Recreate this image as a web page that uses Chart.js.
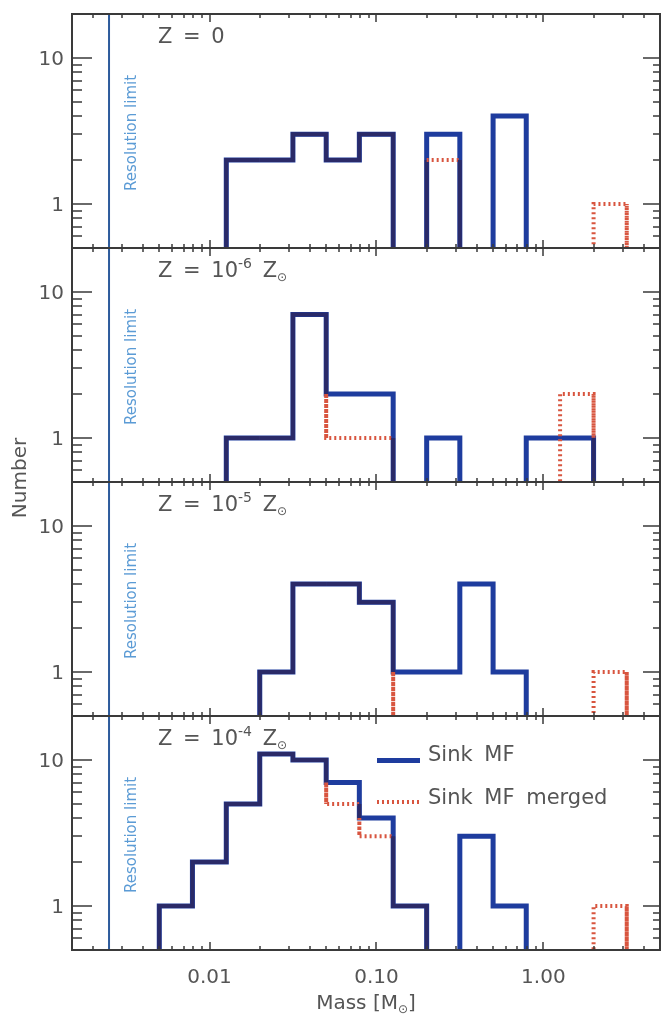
<!DOCTYPE html>
<html>
<head>
<meta charset="utf-8">
<script src="https://cdn.jsdelivr.net/npm/chart.js@4.4.0/dist/chart.umd.min.js"></script>
<style>
  html, body { margin: 0; padding: 0; background: #fff; }
  #wrap { position: relative; width: 662px; height: 1017px; overflow: hidden;
          font-family: 'DejaVu Sans', sans-serif; color: #555; }
  #wrap canvas { position: absolute; left: 0; }
  .ztitle { position: absolute; left: 158px; font-size: 21px; line-height: 22px;
            word-spacing: 4px; white-space: nowrap; }
  .ztitle .sup { position: relative; top: -9px; font-size: 14px; word-spacing: 0; }
  .ztitle .sub { position: relative; top: 4px; font-size: 12px; }
  .axlabel { position: absolute; font-size: 20px; line-height: 22px; text-align: center; white-space: nowrap; }
  .axlabel .sub { position: relative; top: 4px; font-size: 12px; }
  .legtext { position: absolute; left: 428px; font-size: 21px; line-height: 24px; word-spacing: 5px; white-space: nowrap; }
  .legline { position: absolute; left: 377px; width: 43px; }
</style>
</head>
<body>
<div id="wrap"></div>
<script>
// log-spaced bin edges (solar masses), 14 bins
const binEdges = [0.005, 0.0079, 0.0126, 0.02, 0.0316, 0.05, 0.079, 0.126, 0.2, 0.316, 0.5, 0.79, 1.26, 2.0, 3.16];

// number of sinks per bin, one pair per metallicity
const sinkZ0    = [0, 0, 2, 2, 3, 2, 3, 0, 3, 0, 4, 0, 0, 0];
const mergedZ0  = [0, 0, 2, 2, 3, 2, 3, 0, 2, 0, 0, 0, 0, 1];
const sinkZ6    = [0, 0, 1, 1, 7, 2, 2, 0, 1, 0, 0, 1, 1, 0];
const mergedZ6  = [0, 0, 1, 1, 7, 1, 1, 0, 0, 0, 0, 0, 2, 0];
const sinkZ5    = [0, 0, 0, 1, 4, 4, 3, 1, 1, 4, 1, 0, 0, 0];
const mergedZ5  = [0, 0, 0, 1, 4, 4, 3, 0, 0, 0, 0, 0, 0, 1];
const sinkZ4    = [1, 2, 5, 11, 10, 7, 4, 1, 0, 3, 1, 0, 0, 0];
const mergedZ4  = [1, 2, 5, 11, 10, 5, 3, 1, 0, 0, 0, 0, 0, 1];

const zExponents = [null, '-6', '-5', '-4'];
const resolutionLimit = 0.0025;

const xMajorTicks = [0.01, 0.1, 1];
const xTickLabels = ['0.01', '0.10', '1.00'];
const xMinorTicks = [0.002, 0.003, 0.004, 0.005, 0.006, 0.007, 0.008, 0.009,
                     0.02, 0.03, 0.04, 0.05, 0.06, 0.07, 0.08, 0.09,
                     0.2, 0.3, 0.4, 0.5, 0.6, 0.7, 0.8, 0.9, 2, 3, 4];
const yMajorTicks = [1, 10];
const yTickLabels = ['1', '10'];
const yMinorTicks = [0.6, 0.7, 0.8, 0.9, 2, 3, 4, 5, 6, 7, 8, 9];

const panels = [
  { sink: sinkZ0, merged: mergedZ0, exp: zExponents[0] },
  { sink: sinkZ6, merged: mergedZ6, exp: zExponents[1] },
  { sink: sinkZ5, merged: mergedZ5, exp: zExponents[2] },
  { sink: sinkZ4, merged: mergedZ4, exp: zExponents[3] }
];

const BLUE = '#1e3c9e', NAVY = '#2a2a68', RED = '#d8553f', AXIS = '#3a3a3a';
const PANEL_TOP = 14, PANEL_H = 234, PAD = 4;
const BASE = 0.3; // empty bins sit below the axis
const lift = v => (v > 0 ? v : BASE);

// histogram outline as step points
function sinkOutline(counts) {
  const pts = [];
  let prev = 0;
  counts.forEach((c, i) => {
    pts.push({ x: binEdges[i], y: lift(prev) }, { x: binEdges[i], y: lift(c) }, { x: binEdges[i + 1], y: lift(c) });
    prev = c;
  });
  pts.push({ x: binEdges[counts.length], y: BASE });
  return pts;
}

// merged outline, with a flag per segment telling if it lies on the sink outline
function mergedOutline(m, s) {
  const pts = [], shared = [];
  const n = m.length;
  for (let i = 0; i <= n; i++) {
    const a = i > 0 ? m[i - 1] : 0, b = i < n ? m[i] : 0;
    const sa = i > 0 ? s[i - 1] : 0, sb = i < n ? s[i] : 0;
    const lo = Math.min(sa, sb), hi = Math.max(sa, sb);
    const ys = [a];
    [sa, sb].filter(v => (v - a) * (v - b) < 0)
      .sort((p, q) => (b > a ? p - q : q - p))
      .forEach(v => ys.push(v));
    ys.push(b);
    if (i === 0) pts.push({ x: binEdges[0], y: lift(a) });
    for (let k = 1; k < ys.length; k++) {
      const y0 = ys[k - 1], y1 = ys[k];
      shared.push(y0 !== y1 && Math.min(y0, y1) >= lo && Math.max(y0, y1) <= hi);
      pts.push({ x: binEdges[i], y: lift(y1) });
    }
    if (i < n) {
      shared.push(m[i] > 0 && m[i] === s[i]);
      pts.push({ x: binEdges[i + 1], y: lift(m[i]) });
    }
  }
  return { pts, shared };
}

// frame with inward ticks, tick labels and the resolution text
const framePlugin = {
  id: 'frame',
  afterDraw(chart, args, opts) {
    const { ctx, chartArea: a, scales: { x, y } } = chart;
    ctx.save();
    ctx.strokeStyle = AXIS;
    ctx.lineWidth = 2;
    ctx.strokeRect(a.left, a.top, a.right - a.left, a.bottom - a.top);
    ctx.lineWidth = 1.5;
    ctx.beginPath();
    const xt = (v, len) => {
      const px = Math.round(x.getPixelForValue(v));
      ctx.moveTo(px, a.bottom); ctx.lineTo(px, a.bottom - len);
      ctx.moveTo(px, a.top); ctx.lineTo(px, a.top + len);
    };
    const yt = (v, l, r) => {
      const py = Math.round(y.getPixelForValue(v));
      ctx.moveTo(a.left, py); ctx.lineTo(a.left + l, py);
      ctx.moveTo(a.right, py); ctx.lineTo(a.right - r, py);
    };
    xMinorTicks.forEach(v => xt(v, 4));
    xMajorTicks.forEach(v => xt(v, 8));
    yMinorTicks.forEach(v => yt(v, 10, 7));
    yMajorTicks.forEach(v => yt(v, 20, 17));
    ctx.stroke();

    ctx.fillStyle = '#555';
    ctx.font = '20px "DejaVu Sans"';
    ctx.textAlign = 'right';
    ctx.textBaseline = 'alphabetic';
    yMajorTicks.forEach((v, i) => ctx.fillText(yTickLabels[i], a.left - 8, y.getPixelForValue(v) + 7));
    if (opts.showX) {
      ctx.textAlign = 'center';
      xMajorTicks.forEach((v, i) => ctx.fillText(xTickLabels[i], x.getPixelForValue(v), a.bottom + 33));
    }

    ctx.fillStyle = '#5b9bd5';
    ctx.font = '15px "DejaVu Sans"';
    ctx.textAlign = 'center';
    ctx.translate(x.getPixelForValue(resolutionLimit) + 27, (a.top + a.bottom) / 2 + 2);
    ctx.rotate(-Math.PI / 2);
    ctx.fillText('Resolution limit', 0, 0);
    ctx.restore();
  }
};

const wrap = document.getElementById('wrap');

panels.forEach((p, i) => {
  const last = i === panels.length - 1;
  const canvas = document.createElement('canvas');
  const h = PANEL_H + 2 * PAD + (last ? 63 : 0);
  canvas.width = 662; canvas.height = h;
  canvas.style.width = '662px'; canvas.style.height = h + 'px';
  canvas.style.top = (PANEL_TOP + i * PANEL_H - PAD) + 'px';
  wrap.appendChild(canvas);

  const merged = mergedOutline(p.merged, p.sink);

  new Chart(canvas, {
    type: 'line',
    data: {
      datasets: [
        {
          label: 'Sink MF merged',
          data: merged.pts,
          borderColor: RED,
          borderWidth: 4,
          borderCapStyle: 'butt',
          borderJoinStyle: 'miter',
          pointRadius: 0,
          segment: {
            borderColor: ctx => merged.shared[ctx.p0DataIndex] ? NAVY : RED,
            borderDash: ctx => merged.shared[ctx.p0DataIndex] ? [] : [2, 3]
          }
        },
        {
          label: 'Sink MF',
          data: sinkOutline(p.sink),
          borderColor: BLUE,
          borderWidth: 5,
          borderJoinStyle: 'miter',
          pointRadius: 0
        },
        {
          label: 'Resolution limit',
          data: [{ x: resolutionLimit, y: 0.1 }, { x: resolutionLimit, y: 100 }],
          borderColor: '#2d5b9c',
          borderWidth: 2,
          pointRadius: 0
        }
      ]
    },
    options: {
      responsive: false,
      animation: false,
      layout: { padding: { left: 72, right: 2, top: PAD, bottom: PAD + (last ? 63 : 0) } },
      scales: {
        x: { type: 'logarithmic', min: 0.0015, max: 5, display: false },
        y: { type: 'logarithmic', min: 0.5, max: 20, display: false }
      },
      plugins: {
        legend: { display: false },
        tooltip: { enabled: false },
        frame: { showX: last }
      }
    },
    plugins: [framePlugin]
  });

  // panel title
  const t = document.createElement('div');
  t.className = 'ztitle';
  t.style.top = (PANEL_TOP + i * PANEL_H + 11) + 'px';
  t.innerHTML = p.exp === null
    ? 'Z = 0'
    : 'Z = 10<span class="sup">' + p.exp + '</span> Z<span class="sub">\u2299</span>';
  wrap.appendChild(t);
});

// axis titles
const yt = document.createElement('div');
yt.className = 'axlabel';
yt.style.cssText = 'left:-41px; top:467px; width:120px; transform:rotate(-90deg);';
yt.textContent = 'Number';
wrap.appendChild(yt);

const xtl = document.createElement('div');
xtl.className = 'axlabel';
xtl.style.cssText = 'left:216px; top:991px; width:300px;';
xtl.innerHTML = 'Mass [M<span class="sub">\u2299</span>]';
wrap.appendChild(xtl);

// legend
const legItems = [
  { text: 'Sink MF', lineTop: 758, textTop: 742, style: 'height:5px; background:' + BLUE + ';' },
  { text: 'Sink MF merged', lineTop: 800, textTop: 785,
    style: 'height:4px; background:repeating-linear-gradient(90deg,' + RED + ' 0 2px, transparent 2px 5px);' }
];
legItems.forEach(item => {
  const l = document.createElement('div');
  l.className = 'legline';
  l.style.cssText = 'top:' + item.lineTop + 'px;' + item.style;
  wrap.appendChild(l);
  const tx = document.createElement('div');
  tx.className = 'legtext';
  tx.style.top = item.textTop + 'px';
  tx.textContent = item.text;
  wrap.appendChild(tx);
});
</script>
</body>
</html>
